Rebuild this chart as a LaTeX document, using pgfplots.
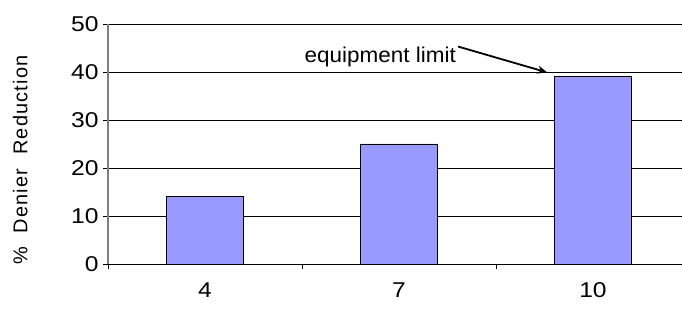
\documentclass[border=0pt]{standalone}
\usepackage{pgfplots}
\pgfplotsset{compat=1.18}
\usetikzlibrary{arrows.meta}
\usepackage{fontspec}
\setmainfont{Liberation Sans}
\newfontfamily\tickfont[FakeStretch=1.15]{Liberation Sans}
\newfontfamily\notefont[FakeStretch=1.05]{Liberation Sans}
\newfontfamily\labfont[LetterSpace=6]{Liberation Sans}
\definecolor{barblue}{HTML}{9999FF}
\begin{document}
\begin{tikzpicture}
\clip (-108bp,-46bp) rectangle (574bp,264bp);
\path[use as bounding box] (-108bp,-46bp) rectangle (574bp,264bp);
\begin{axis}[
  at={(0,0)}, anchor=south west,
  scale only axis, width=574bp, height=240bp,
  xmin=-0.5, xmax=2.459, ymin=0, ymax=50,
  axis lines*=left,
  x axis line style={black, line width=0.8bp},
  y axis line style={gray, line width=2bp},
  ytick={0,10,...,50},
  ymajorgrids, grid style={black, line width=0.7bp},
  tick align=outside, major tick length=5bp,
  tick style={black, line width=0.8bp},
  xtick={-0.5,0.5,1.5}, xticklabels={},
  extra x ticks={0,1,2}, extra x tick labels={4,7,10},
  extra x tick style={major tick length=0pt, grid=none},
  /pgf/number format/assume math mode=true,
  tick label style={font=\tickfont\fontsize{21.5}{25}\selectfont},
  xticklabel style={yshift=-15bp},
  yticklabel style={xshift=-1bp},
  ylabel={\%\hspace{0.7em}Denier\hspace{0.7em}Reduction},
  ylabel style={font=\labfont\fontsize{20}{24}\selectfont, at={(axis description cs:-0.153,0.433)}, anchor=center},
  ybar, bar width=0.4,
]
\addplot[fill=barblue, draw=black, line width=0.8bp] coordinates {(0,14) (1,25) (2,39)};
\node[anchor=east, font=\notefont\fontsize{21.5}{25}\selectfont, inner sep=1bp] at (axis cs:1.30,43.1) {equipment limit};
\draw[-{Stealth[length=10bp,width=8bp]}, line width=1.8bp] (axis cs:1.305,45.3) -- (axis cs:1.765,39.9);
\end{axis}
\end{tikzpicture}
\end{document}
